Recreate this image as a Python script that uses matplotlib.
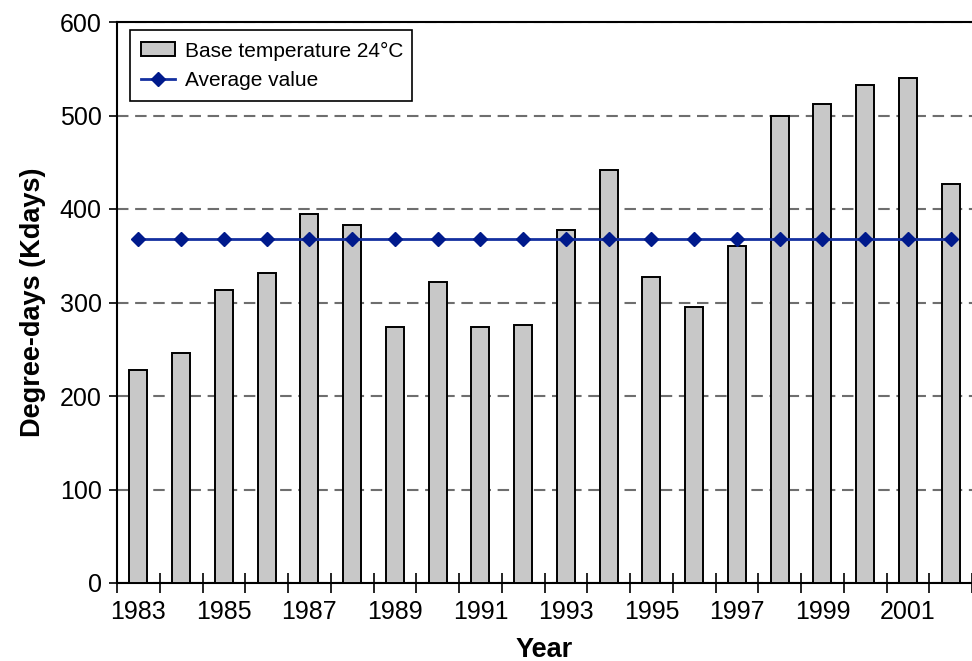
import numpy as np
import matplotlib.pyplot as plt

# data
years = list(range(1983, 2003))
degree_days = [228, 246, 313, 332, 395, 383, 274, 322, 274, 276,
               378, 442, 327, 295, 360, 500, 512, 533, 540, 427]
average_value = 368
year_labels = [str(y) for y in years[::2]]
y_ticks = [0, 100, 200, 300, 400, 500, 600]

plt.rcParams['font.family'] = ['Liberation Sans', 'DejaVu Sans']

W, H = 972, 661
fig = plt.figure(figsize=(W / 100, H / 100), dpi=100)
left, right, top, bottom = 117, 972, 22, 583
ax = fig.add_axes([left / W, 1 - bottom / H, (right - left) / W, (bottom - top) / H])

x = np.arange(len(years))
bars = ax.bar(x, degree_days, width=0.42, color='#c8c8c8', edgecolor='black',
              linewidth=1.4, label='Base temperature 24°C', zorder=3)
line, = ax.plot(x, [average_value] * len(x), color='#1430a0', lw=2, marker='D', ms=7,
                mfc='#001a8c', mec='#001a8c', label='Average value', zorder=4)

cat_w = 43.3  # px per category
ax.set_xlim(-0.5, -0.5 + (right - left) / cat_w)
ax.set_ylim(0, 600)

ax.set_yticks(y_ticks)
ax.tick_params(axis='y', direction='out', length=6, width=1.2, labelsize=18, pad=5)
ax.yaxis.grid(True, color='#6e6e6e', lw=1.5, ls=(0, (5.5, 3.2)), zorder=1)

ax.set_xticks(x[::2])
ax.set_xticklabels(year_labels)
ax.set_xticks(np.arange(-0.5, len(years), 1), minor=True)
ax.tick_params(axis='x', which='major', length=0, labelsize=18, pad=12)
ax.tick_params(axis='x', which='minor', direction='inout', length=15, width=1.2)

for s in ['left', 'bottom', 'top']:
    ax.spines[s].set_linewidth(1.5)
    ax.spines[s].set_color('black')
ax.spines['right'].set_visible(False)

ax.set_xlabel('Year', fontsize=19.5, fontweight='bold', labelpad=9.5)
ax.set_ylabel('Degree-days (Kdays)', fontsize=19.5, fontweight='bold', labelpad=10)

pw, ph = right - left, bottom - top
leg = ax.legend([bars, line], ['Base temperature 24°C', 'Average value'],
                loc='upper left', mode='expand',
                bbox_to_anchor=(13 / pw, 0, 282 / pw, 1 - 8 / ph),
                borderaxespad=0, fontsize=15, fancybox=False, framealpha=1,
                edgecolor='black', handlelength=1.6, handleheight=0.65,
                handletextpad=0.5, labelspacing=0.5, borderpad=0.55)
leg.get_frame().set_linewidth(1.2)
leg.set_zorder(5)

fig.savefig('out.png', dpi=100)
